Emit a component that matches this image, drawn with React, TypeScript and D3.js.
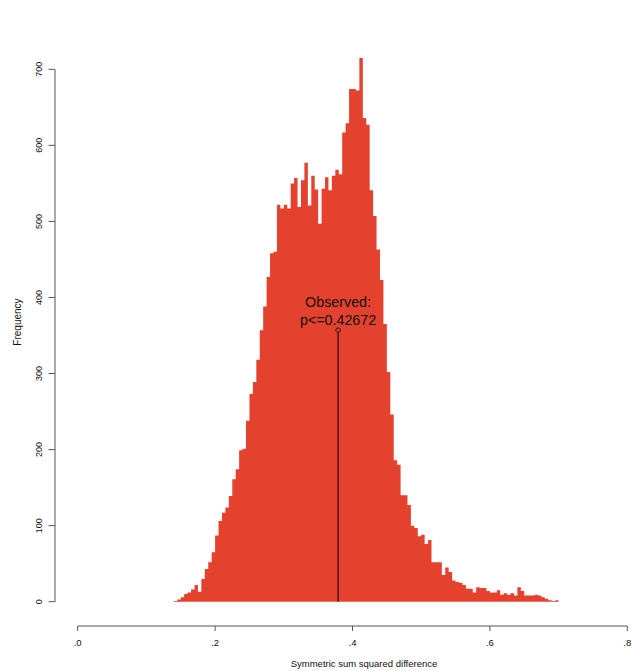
import React from "react";
import * as d3 from "d3";

// ---- data ----
const BIN_START = 0.14;
const BIN_WIDTH = 0.005;
const binCounts = [
  1, 3, 6, 10, 12, 16, 22, 13, 30, 43,
  52, 65, 87, 106, 117, 124, 139, 161, 174, 199,
  201, 238, 273, 289, 318, 357, 388, 427, 458, 460,
  522, 517, 522, 517, 550, 557, 519, 554, 577, 521,
  560, 542, 497, 543, 558, 541, 560, 568, 562, 617,
  629, 674, 674, 672, 715, 636, 627, 541, 507, 463,
  423, 365, 302, 246, 186, 180, 140, 140, 127, 100,
  97, 86, 88, 76, 81, 52, 52, 52, 35, 45,
  39, 28, 26, 25, 22, 17, 17, 12, 19, 18,
  18, 14, 12, 12, 15, 9, 11, 9, 11, 8,
  19, 14, 8, 8, 8, 9, 8, 6, 4, 2,
  1, 2,
];
const xTicks = [0, 0.2, 0.4, 0.6, 0.8];
const xTickLabels = [".0", ".2", ".4", ".6", ".8"];
const yTicks = [0, 100, 200, 300, 400, 500, 600, 700];
const observedValue = 0.379;
const observedMarkerHeight = 357;
const observedLabel = ["Observed:", "p<=0.42672"];
const xTitle = "Symmetric sum squared difference";
const yTitle = "Frequency";

const W = 633;
const H = 671;
const FONT = "'Liberation Sans', Arial, Helvetica, sans-serif";
const BAR = "#e5412f";
const AXIS = "#555";
const TEXT = "#111";

export default function App() {
  const x = d3.scaleLinear().domain([0, 0.8]).range([77.7, 627.3]);
  const y = d3.scaleLinear().domain([0, 700]).range([601.7, 69.3]);

  const bins = binCounts.map((c, i) => {
    const x0 = BIN_START + i * BIN_WIDTH;
    return { x0, x1: x0 + BIN_WIDTH, c };
  });

  // single step outline so adjacent bars have no seams
  const p = d3.path();
  p.moveTo(x(bins[0].x0), y(0));
  bins.forEach((b) => {
    p.lineTo(x(b.x0), y(b.c));
    p.lineTo(x(b.x1), y(b.c));
  });
  p.lineTo(x(bins[bins.length - 1].x1), y(0));
  p.closePath();

  const xAxisY = 626;

  return (
    <svg
      width={W}
      height={H}
      viewBox={`0 0 ${W} ${H}`}
      style={{ position: "absolute", left: 0, top: 0, background: "#ffffff" }}
      fontFamily={FONT}
    >
      <rect x={0} y={0} width={W} height={H} fill="#ffffff" />
      {/* histogram */}
      <path d={p.toString()} fill={BAR} stroke="none" />

      {/* observed marker */}
      <line
        x1={x(observedValue)}
        x2={x(observedValue)}
        y1={y(0)}
        y2={y(observedMarkerHeight) + 2.3}
        stroke="#2a1410"
        strokeWidth={1.3}
      />
      <circle
        cx={x(observedValue)}
        cy={y(observedMarkerHeight)}
        r={2.3}
        fill="none"
        stroke="#2a1410"
        strokeWidth={1}
      />
      <text x={x(observedValue)} y={307} textAnchor="middle" fontSize={14.3} fill={TEXT}>
        {observedLabel[0]}
      </text>
      <text x={x(observedValue)} y={325} textAnchor="middle" fontSize={14.3} fill={TEXT}>
        {observedLabel[1]}
      </text>

      {/* y axis */}
      <line x1={55} x2={55} y1={y(0)} y2={y(700)} stroke={AXIS} strokeWidth={1} />
      {yTicks.map((t) => (
        <g key={t}>
          <line x1={48.5} x2={55} y1={y(t)} y2={y(t)} stroke={AXIS} strokeWidth={1} />
          <text
            transform={`translate(41.5, ${y(t)}) rotate(-90)`}
            textAnchor="middle"
            fontSize={9}
            fill={TEXT}
          >
            {t}
          </text>
        </g>
      ))}
      <text
        transform={`translate(20.5, 322) rotate(-90)`}
        textAnchor="middle"
        fontSize={10}
        fill={TEXT}
      >
        {yTitle}
      </text>

      {/* x axis */}
      <line x1={x(0)} x2={x(0.8)} y1={xAxisY} y2={xAxisY} stroke={AXIS} strokeWidth={1} />
      {xTicks.map((t, i) => (
        <g key={t}>
          <line x1={x(t)} x2={x(t)} y1={xAxisY} y2={xAxisY + 5} stroke={AXIS} strokeWidth={1} />
          <text x={x(t)} y={646} textAnchor="middle" fontSize={9.5} fill={TEXT}>
            {xTickLabels[i]}
          </text>
        </g>
      ))}
      <text x={364} y={667} textAnchor="middle" fontSize={9.5} fill={TEXT}>
        {xTitle}
      </text>
    </svg>
  );
}
